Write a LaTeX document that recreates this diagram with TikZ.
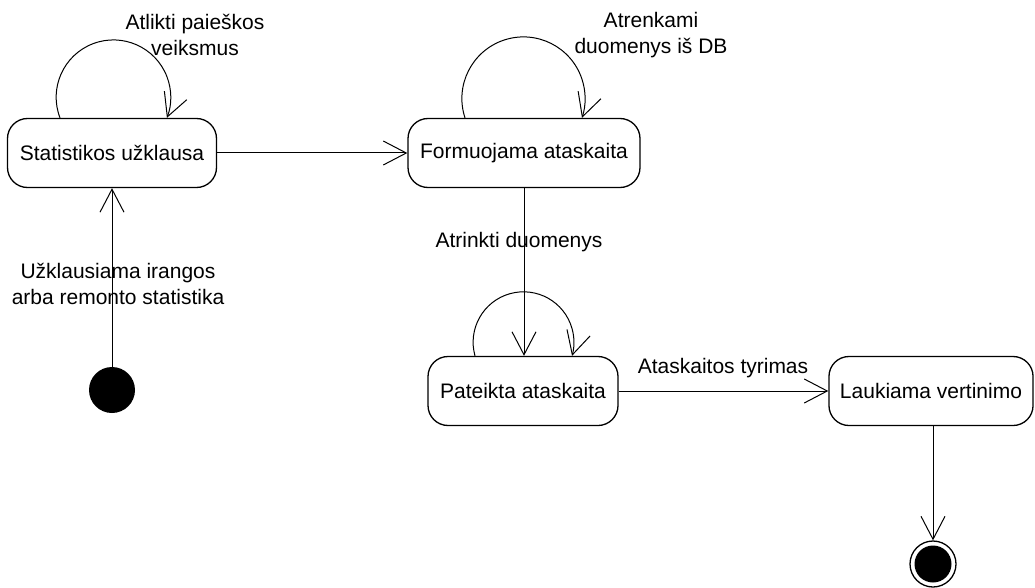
\documentclass[tikz,border=0pt]{standalone}
\usepackage{fontspec}
\setmainfont{Liberation Sans}
\usetikzlibrary{arrows.meta}

\begin{document}
\begin{tikzpicture}[x=1pt,y=-1pt,
  state/.style={draw, rounded corners=20pt, line width=1.3pt, minimum height=69pt,
                inner xsep=11pt, font=\fontsize{21}{27}\selectfont},
  trans/.style={line width=1pt, -{Straight Barb[length=23pt,width=24pt,line width=1pt]}},
  lbl/.style={align=center, inner sep=0pt, font=\fontsize{21}{26}\selectfont}]
\useasboundingbox (0,0) rectangle (1035,588);

% states
\node[state, minimum width=209pt] (s1) at (112,153) {Statistikos užklausa};
\node[state, minimum width=232pt] (s2) at (524,153) {Formuojama ataskaita};
\node[state, minimum width=190pt] (s3) at (523,391) {Pateikta ataskaita};
\node[state, minimum width=204pt] (s4) at (931,391) {Laukiama vertinimo};

% initial and final pseudo-states
\node[circle, fill=black, minimum size=46pt, inner sep=0pt] (init) at (112,390) {};
\node[circle, draw, line width=1.3pt, minimum size=46pt, inner sep=0pt] (fin) at (933,564) {};
\node[circle, fill=black, minimum size=37pt, inner sep=0pt] (fincore) at (fin) {};

% transitions
\draw[trans] (init) -- (s1);
\draw[trans] (s1) -- (s2);
\draw[trans] (s2.south) -- (s2.south |- s3.north);
\draw[trans] (s3) -- (s4);
\draw[trans] (fin |- s4.south) -- (fin);

% self transitions (circular arcs over the top of each state)
\draw[trans] ([xshift=-52pt]s1.north) arc[start angle=158.9, end angle=381.1, radius=57.3];
\draw[trans] ([xshift=-59pt]s2.north) arc[start angle=161.7, end angle=378.3, radius=61.6];
\draw[trans] ([xshift=-48pt]s3.north) arc[start angle=164.3, end angle=375.7, radius=50.4];

% labels
\node[lbl] (l1) at (195,35) {Atlikti paieškos\\veiksmus};
\node[lbl] (l2) at (651,35) {Atrenkami\\duomenys iš DB};
\node[lbl] (l3) at (519,242) {Atrinkti duomenys};
\node[lbl] (l4) at (118,284) {Užklausiama irangos\\arba remonto statistika};
\node[lbl] (l5) at (723,368) {Ataskaitos tyrimas};
\end{tikzpicture}
\end{document}
